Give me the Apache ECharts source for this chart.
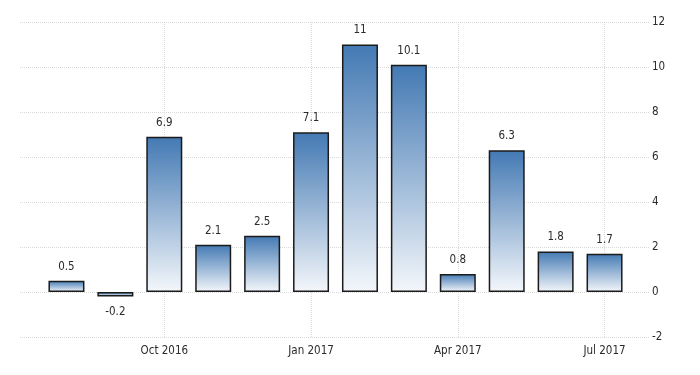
<!DOCTYPE html>
<html>
<head>
<meta charset="utf-8">
<script src="https://cdn.jsdelivr.net/npm/echarts@6/dist/echarts.min.js"></script>
<style>
html,body{margin:0;padding:0;background:#fff;}
#c{width:700px;height:375px;}
</style>
</head>
<body>
<div id="c"></div>
<script>
var categories = ['Aug 2016','Sep 2016','Oct 2016','Nov 2016','Dec 2016','Jan 2017','Feb 2017','Mar 2017','Apr 2017','May 2017','Jun 2017','Jul 2017'];
var values = [0.5, -0.2, 6.9, 2.1, 2.5, 7.1, 11, 10.1, 0.8, 6.3, 1.8, 1.7];
var labelledMonths = ['Oct 2016','Jan 2017','Apr 2017','Jul 2017'];
var yTicks = [-2, 0, 2, 4, 6, 8, 10, 12];

var FONT = '"DejaVu Sans Condensed", "Liberation Sans Narrow", "Arial Narrow", sans-serif';
var chart = echarts.init(document.getElementById('c'), null, {renderer:'canvas'});

var barData = values.map(function(v){
  return {
    value: v,
    label: { position: v < 0 ? 'bottom' : 'top', distance: v < 0 ? 10 : 8 }
  };
});

var option = {
  animation: false,
  backgroundColor: '#ffffff',
  grid: [
    {left: 42, right: 71, top: 22, bottom: 38},
    {left: 20, right: 51, top: 22, bottom: 38}
  ],
  xAxis: [
    {
      type: 'category', gridIndex: 0, data: categories, boundaryGap: true,
      axisLine: {show: false}, axisTick: {show: false}, splitLine: {show: false},
      axisLabel: {
        interval: 0, margin: 8, color: '#2b2b2b', fontSize: 11.5, fontFamily: FONT,
        formatter: function(v){ return labelledMonths.indexOf(v) >= 0 ? v : ''; }
      }
    },
    {
      type: 'value', gridIndex: 1, min: 0, max: 1, show: false
    }
  ],
  yAxis: [
    {
      type: 'value', gridIndex: 0, min: yTicks[0], max: yTicks[yTicks.length-1], interval: 2,
      show: false
    },
    {
      type: 'value', gridIndex: 1, position: 'right', min: yTicks[0], max: yTicks[yTicks.length-1], interval: 2,
      axisLine: {show: false}, axisTick: {show: false},
      splitLine: {show: true, lineStyle: {color: '#dadada', type: [1, 1], width: 1}},
      axisLabel: {margin: 3, color: '#2b2b2b', fontSize: 11.5, fontFamily: FONT}
    }
  ],
  series: [
    {
      type: 'bar', xAxisIndex: 0, yAxisIndex: 0,
      data: barData,
      barWidth: 36,
      itemStyle: {
        borderColor: '#1b1b1b', borderWidth: 1.5,
        color: new echarts.graphic.LinearGradient(0, 0, 0, 1, [
          {offset: 0, color: '#4379b3'},
          {offset: 1, color: '#f4f7fb'}
        ])
      },
      label: {
        show: true, color: '#2b2b2b', fontSize: 11.5, fontFamily: FONT,
        formatter: function(p){ return String(p.value); }
      },
      markLine: {
        silent: true, symbol: ['none','none'], label: {show: false},
        lineStyle: {color: '#dadada', type: [1, 1], width: 1},
        z: 0,
        data: labelledMonths.map(function(m){ return {xAxis: m}; })
      },
      z: 3
    }
  ]
};
chart.setOption(option);
</script>
</body>
</html>
